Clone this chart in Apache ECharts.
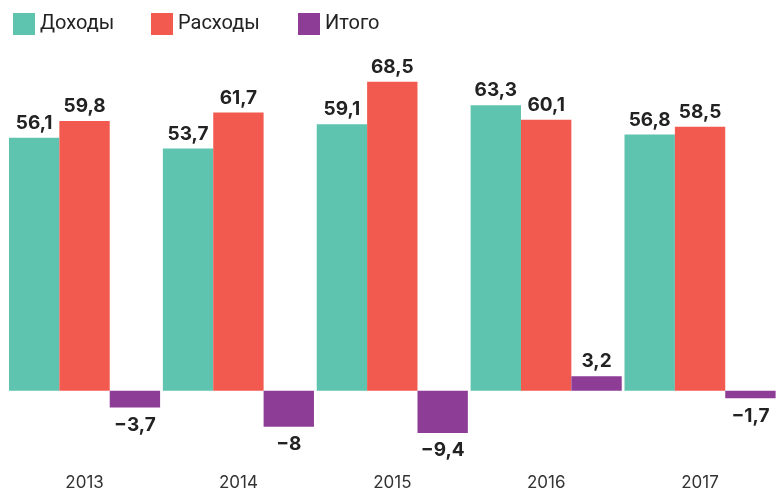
<!DOCTYPE html>
<html lang="ru">
<head>
<meta charset="utf-8">
<title>Доходы и расходы</title>
<script src="https://cdn.jsdelivr.net/npm/echarts@6/dist/echarts.min.js"></script>
<style>
  html, body { margin: 0; padding: 0; background: #fff; }
  #chart { width: 777px; height: 494px; }
</style>
</head>
<body>
<div id="chart"></div>
<script>
  const years = ["2013", "2014", "2015", "2016", "2017"];
  const income = [56.1, 53.7, 59.1, 63.3, 56.8];
  const expenses = [59.8, 61.7, 68.5, 60.1, 58.5];
  const balance = [-3.7, -8, -9.4, 3.2, -1.7];

  const colors = {
    income: "#5fc4af",
    expenses: "#f25a4f",
    balance: "#8e3d97"
  };

  function fmt(value) {
    return String(value).replace(".", ",").replace("-", "\u2212");
  }

  const labelStyle = {
    show: true,
    fontFamily: "Inter, Roboto, sans-serif",
    fontSize: 19,
    fontWeight: 700,
    color: "#222",
    formatter: (p) => fmt(p.value)
  };

  function points(values) {
    return values.map((v) => ({
      value: v,
      label: v < 0 ? { position: "bottom", distance: 8 } : { position: "top", distance: 5 }
    }));
  }

  // one legend per item so the squares sit where they do in the original
  function legendAt(left, name) {
    return {
      left,
      top: 8,
      itemWidth: 22,
      itemHeight: 22,
      icon: "rect",
      data: [name],
      selectedMode: false,
      textStyle: { fontFamily: "Roboto, sans-serif", fontSize: 20, color: "#222" }
    };
  }

  const chart = echarts.init(document.getElementById("chart"));

  chart.setOption({
    animation: false,
    legend: [legendAt(8, "Доходы"), legendAt(146, "Расходы"), legendAt(293, "Итого")],
    grid: { left: 7.6, right: -4.4, top: 75, bottom: 58.2, containLabel: false },
    xAxis: {
      type: "category",
      data: years,
      axisLine: { show: false, onZero: false },
      axisTick: { show: false },
      axisLabel: { margin: 39, fontFamily: "Inter, Roboto, sans-serif", fontSize: 17, color: "#333" }
    },
    yAxis: {
      type: "value",
      min: -10,
      max: 70,
      show: false,
      splitLine: { show: false }
    },
    series: [
      {
        name: "Доходы",
        type: "bar",
        data: points(income),
        itemStyle: { color: colors.income },
        label: labelStyle,
        barGap: 0,
        barCategoryGap: "1.8%"
      },
      {
        name: "Расходы",
        type: "bar",
        data: points(expenses),
        itemStyle: { color: colors.expenses },
        label: labelStyle,
        barGap: 0,
        barCategoryGap: "1.8%"
      },
      {
        name: "Итого",
        type: "bar",
        data: points(balance),
        itemStyle: { color: colors.balance },
        label: labelStyle,
        barGap: 0,
        barCategoryGap: "1.8%"
      }
    ]
  });
</script>
</body>
</html>
